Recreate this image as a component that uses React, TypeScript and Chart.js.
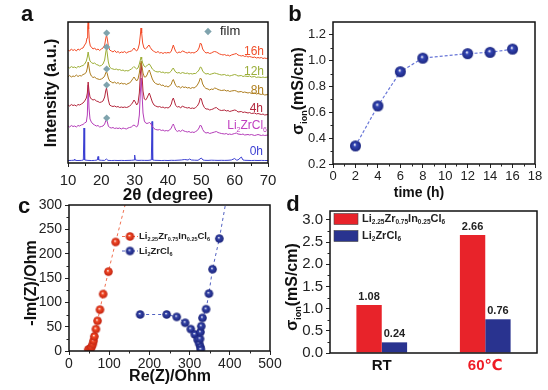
import React, { useEffect, useRef } from "react";
import { Chart, registerables } from "chart.js";
Chart.register(...registerables);

const W = 548;
const H = 390;
const FONT = '"Liberation Sans", Arial, "DejaVu Sans", "Noto Sans CJK SC", sans-serif';

// ---------------- Panel a : XRD patterns (2θ, intensity a.u.) ----------------
const xrd16h = [[10,113],[10.5,112],[11,114],[11.5,112.5],[12,113.5],[12.5,112],[13,114],[13.5,113],[14,114.5],[14.5,115],[15,118],[15.4,120],[15.7,125],[15.9,136],[16.05,141],[16.2,134],[16.4,122],[16.7,117],[17,116],[17.5,114],[18,115],[18.5,113],[19,114],[19.5,112.5],[20,114],[20.5,115],[21,118],[21.3,124],[21.55,128],[21.8,124],[22.1,117],[22.5,113],[23,112],[23.5,111],[24,112.5],[24.5,110.5],[25,111.5],[25.5,110],[26,111],[26.5,110.5],[27,111.5],[27.5,110],[28,111],[28.5,111.5],[29,112],[29.5,113.5],[29.8,115],[30.2,113],[30.6,112],[31,114],[31.4,119],[31.7,128],[31.9,135],[32.1,130],[32.4,120],[32.8,115],[33.2,114],[33.6,115],[34,117],[34.3,118],[34.7,115.5],[35.2,113],[35.7,112],[36,111],[36.5,110.5],[37,111.5],[37.5,110],[38,110.5],[38.5,109.5],[39,110.5],[39.5,110],[40,110.5],[40.5,110],[41,112],[41.3,115],[41.6,118],[41.9,115],[42.3,111.5],[42.8,110],[43.3,111],[43.8,110.5],[44.3,112],[44.8,111.5],[45.3,110.5],[45.8,110],[46.3,111],[46.8,110],[47.3,110.5],[47.8,110],[48.3,111],[48.8,112],[49.3,115],[49.7,120],[50,119],[50.4,114],[50.9,111.5],[51.4,110],[52,110.5],[52.5,109.5],[53,110],[53.5,111],[54,111.5],[54.5,111],[55,110],[55.5,109],[56,108.5],[56.5,108],[57,108.5],[57.5,107.5],[58,108],[58.5,107],[59,108],[59.5,108.5],[60,109],[60.5,109.5],[61,108],[61.5,107.5],[62,107],[62.5,107.5],[63,106.5],[63.5,107],[64,106],[64.5,106.5],[65,106],[65.5,105.5],[66,106],[66.5,105],[67,105.5],[67.5,105],[68,105.5],[68.5,104.5],[69,105],[69.5,104.5],[70,105]];
const xrd12h = [[10,96],[10.5,95],[11,96.5],[11.5,95.5],[12,96],[12.5,95],[13,96.5],[13.5,96],[14,97],[14.5,97.5],[15,99],[15.5,102],[15.8,106],[16.05,111],[16.3,106],[16.6,102],[17,100.5],[17.5,99.5],[18,100],[18.5,98.5],[19,98],[19.5,97],[20,97.5],[20.5,99],[21,103],[21.3,110],[21.55,115],[21.8,109],[22.1,101],[22.5,96],[23,94.5],[23.5,94],[24,93.5],[24.5,94],[25,93],[25.5,93.5],[26,92.5],[26.5,93],[27,92],[27.5,92.5],[28,92],[28.5,93],[29,94],[29.5,95.5],[29.8,96.5],[30.2,95],[30.6,94],[31,95],[31.4,99],[31.7,103],[31.9,106],[32.1,104],[32.4,100],[32.8,97],[33.2,96],[33.6,97],[34,98.5],[34.4,99],[34.8,97],[35.3,94],[35.8,92.5],[36.3,91.5],[37,91],[37.5,91.5],[38,90.5],[38.5,91],[39,90],[39.5,90.5],[40,90],[40.5,90.5],[41,92],[41.3,94],[41.6,95],[41.9,93],[42.3,91],[42.8,90],[43.3,90.5],[43.8,89.5],[44.3,90.5],[44.8,90],[45.3,89.5],[45.8,90],[46.3,89],[46.8,89.5],[47.3,89],[47.8,89.5],[48.3,89.5],[48.8,91],[49.3,93],[49.7,96],[50,95.5],[50.4,92],[50.9,90],[51.4,89],[52,89.5],[52.5,88.5],[53,89],[53.5,89.5],[54,90],[54.5,89.5],[55,89],[55.5,88.5],[56,88],[57,88.5],[57.5,87.5],[58,88],[58.5,87],[59,87.5],[60,88.5],[60.5,88],[61,87],[62,87.5],[62.5,86.5],[63,87],[64,86.5],[64.5,87],[65,86],[66,86.5],[66.5,85.5],[67,86],[68,85.5],[68.5,86],[69,85.5],[70,86]];
const xrd8h = [[10,86],[10.5,87.5],[11,86],[11.5,87],[12,86.5],[12.5,88],[13,86.5],[13.5,87.5],[14,87],[14.5,88.5],[15,89],[15.5,91],[15.8,95],[16.05,101],[16.3,96],[16.6,90],[17,87],[17.5,85.5],[18,86],[18.5,84.5],[19,84],[19.5,83.5],[20,84],[20.5,85],[21,87],[21.3,90],[21.55,91.5],[21.8,89],[22.1,85],[22.5,82],[23,81],[23.5,80],[24,81],[24.5,79.5],[25,80.5],[25.5,79],[26,80],[26.5,79],[27,79.5],[27.5,78.5],[28,79.5],[28.5,80],[29,82],[29.5,84.5],[29.8,86],[30.2,84],[30.6,82],[31,84],[31.4,90],[31.7,98],[31.95,102],[32.2,97],[32.5,90],[32.9,86],[33.3,86],[33.7,88],[34.1,91.5],[34.4,93],[34.8,89],[35.3,84],[35.8,81],[36.3,79.5],[37,78.5],[37.5,79],[38,77.5],[38.5,78],[39,76.5],[39.5,77],[40,76],[40.5,77],[41,79],[41.3,82],[41.6,83.5],[41.9,81],[42.3,77.5],[42.8,76],[43.3,76.5],[43.8,75],[44.3,76.5],[44.8,75.5],[45.3,76],[45.8,75],[46.3,75.5],[46.8,74.5],[47.3,75.5],[47.8,75],[48.3,76],[48.8,78],[49.3,81],[49.7,85],[50,84],[50.4,79],[50.9,76],[51.4,74.5],[52,74],[52.5,73],[53,74],[53.5,73.5],[54,75],[54.5,74.5],[55,73.5],[55.5,73],[56,72.5],[57,73],[57.5,72],[58,72.5],[58.5,71.5],[59,72],[60,72.5],[60.5,72],[61,71],[62,71.5],[62.5,70.5],[63,71],[64,70],[64.5,70.5],[65,69.5],[66,70],[66.5,69],[67,69.5],[68,68.5],[68.5,69],[69,68],[70,68.5]];
const xrd4h = [[10,58],[10.5,57],[11,58.5],[11.5,57.5],[12,58],[12.5,57],[13,58.5],[13.5,58],[14,59],[14.5,60],[15,62],[15.5,65],[15.8,70],[16.05,81],[16.3,72],[16.6,66],[17,64],[17.5,63],[18,63.5],[18.5,62],[19,61.5],[19.5,60.5],[20,61],[20.5,62],[21,66],[21.3,72],[21.55,75],[21.8,70],[22.1,63],[22.5,58],[23,57],[23.5,56.5],[24,57],[24.5,56],[25,56.5],[25.5,55.5],[26,56],[26.5,55.5],[27,56],[27.5,55.5],[28,56],[28.5,57],[29,58.5],[29.5,61],[29.8,63],[30.2,61],[30.6,58],[31,60],[31.4,70],[31.7,88],[31.95,100],[32.2,88],[32.5,72],[32.9,64],[33.3,63],[33.7,65],[34.1,68],[34.4,70],[34.8,66],[35.3,61],[35.8,58],[36.3,57],[37,56],[37.5,56.5],[38,55.5],[38.5,56],[39,55],[39.5,55.5],[40,55],[40.5,56],[41,59],[41.3,63],[41.6,65],[41.9,62],[42.3,57.5],[42.8,56],[43.3,56.5],[43.8,55],[44.3,57],[44.8,56],[45.3,55.5],[45.8,55],[46.3,55.5],[46.8,54.5],[47.3,55],[47.8,54.5],[48.3,55.5],[48.8,57],[49.3,60],[49.7,65],[50,64],[50.4,59],[50.9,55.5],[51.4,54],[52,54],[52.5,53],[53,53.5],[53.5,54],[54,55],[54.5,55.5],[55,54],[55.5,53],[56,52.5],[57,53],[57.5,52],[58,52.5],[58.5,51.5],[59,52],[60,53],[60.5,52.5],[61,51],[62,51.5],[62.5,50.5],[63,51],[64,50],[64.5,50.5],[65,49.5],[66,50],[66.5,49],[67,49.5],[68,48.5],[68.5,49],[69,48],[70,48.5]];
const xrdLi2ZrCl6 = [[10,37],[10.5,36],[11,37.5],[11.5,36.5],[12,37],[12.5,36],[13,37.5],[13.5,37],[14,38],[14.5,38.5],[15,40],[15.5,41],[15.8,48],[16.05,78],[16.3,55],[16.6,44],[17,41],[17.5,39],[18,38],[18.5,37],[19,37.5],[19.5,36],[20,36.5],[20.5,37],[21,39],[21.3,42],[21.55,43.5],[21.8,41],[22.1,37],[22.5,35.5],[23,35],[23.5,35.5],[24,34.5],[24.5,35],[25,34.5],[25.5,35],[26,34],[26.5,35],[27,34.5],[27.5,34],[28,35],[28.5,35.5],[29,36],[29.5,37.5],[29.8,38],[30.2,37],[30.6,36],[31,38],[31.4,48],[31.7,70],[31.95,85],[32.2,70],[32.5,50],[32.9,42],[33.3,40],[33.7,39.5],[34.1,40],[34.5,40.5],[34.9,39],[35.3,36.5],[35.8,34.5],[36.3,33.5],[37,33],[37.5,33.5],[38,32.5],[38.5,33],[39,32],[39.5,32.5],[40,32],[40.5,33],[41,35],[41.3,37.5],[41.6,39],[41.9,36.5],[42.3,33],[42.8,31.5],[43.3,32.5],[43.8,31.5],[44.3,33],[44.8,32],[45.3,31.5],[45.8,31],[46.3,31.5],[46.8,30.5],[47.3,31],[47.8,30.5],[48.3,31.5],[48.8,32.5],[49.3,35],[49.7,38],[50,37],[50.4,33.5],[50.9,31],[51.4,30],[52,30.5],[52.5,29.5],[53,30],[53.5,30.5],[54,31],[54.5,31.5],[55,30.5],[55.5,30],[56,29.5],[57,29],[57.5,29.5],[58,28.5],[58.5,29],[59,28.5],[60,29.5],[60.5,30],[61,29],[62,28.5],[62.5,29],[63,28],[64,28.5],[64.5,28],[65,28.5],[66,27.5],[66.5,28],[67,28.5],[68,27.5],[68.5,28],[69,27.5],[70,28]];
const xrd0h = [[10,2.5],[11,2.6],[11.8,2.8],[12,4],[12.2,2.6],[13,2.5],[14,2.6],[14.6,3],[14.8,35],[15,3],[16,2.6],[17,2.5],[18,2.6],[18.8,3],[19,6.5],[19.2,3],[20,2.7],[21,2.6],[21.5,4],[22,2.6],[23,2.5],[24,2.6],[25,2.5],[26,2.6],[27,2.5],[28,2.6],[29,2.7],[29.8,3],[30,8],[30.2,3],[31,2.6],[32,2.7],[33,2.6],[34,2.6],[35,3],[35.2,41.5],[35.4,3],[36,2.7],[37,2.6],[38,2.5],[39,2.6],[40,2.5],[41,2.7],[42,2.6],[43,2.8],[44,3],[45,3.5],[46,3],[46.5,4],[47,3],[48,2.8],[49,2.7],[50,5],[50.5,3],[51,2.7],[52,2.6],[53,2.8],[54,2.7],[55,2.6],[56,2.7],[57,2.6],[58,2.7],[59,3],[60,4.5],[60.5,3],[61,3],[62,6],[62.5,3],[63,2.7],[64,2.6],[65,2.5],[66,2.6],[67,2.5],[68,2.6],[69,2.5],[70,2.5]];
const filmTheta = [21.6, 21.6, 21.6, 21.6, 21.6];
const filmIntensity = [130, 116, 94, 78, 45];
const xrdNames = ["16h", "12h", "8h", "4h", "Li2ZrCl6", "0h"];

// ---------------- Panel b : conductivity vs time ----------------
const timeH = [2, 4, 6, 8, 12, 14, 16];
const sigmaTime = [0.34, 0.65, 0.915, 1.02, 1.055, 1.065, 1.09];

// ---------------- Panel c : Nyquist ----------------
const inRe = [48, 53, 56, 59, 61, 63, 67, 71, 77, 85, 98, 116];
const inIm = [3, 5, 8, 14, 21, 30, 45, 62, 85, 117, 163, 224];
const inFit = [[116, 224], [141, 305]];
const zrRe = [177, 243, 268, 289, 303, 313, 320, 324, 327, 328, 326, 327, 329, 332, 341, 348, 357, 374];
const zrIm = [75, 75, 70, 58, 45, 34, 23, 15, 8, 3, 25, 39, 51, 68, 86, 118, 168, 231];
const zrFit = [[374, 231], [390, 305]];

// ---------------- Panel d : bars ----------------
const condCats = ["RT", "60℃"];
const condIn = [1.08, 2.66];
const condZr = [0.24, 0.76];

// ---------------- helpers ----------------
type Seg = [string, boolean];
const LI_IN: Seg[] = [["Li", false], ["2.25", true], ["Zr", false], ["0.75", true], ["In", false], ["0.25", true], ["Cl", false], ["6", true]];
const LI_ZR: Seg[] = [["Li", false], ["2", true], ["ZrCl", false], ["6", true]];
const SIGMA: Seg[] = [["σ", false], ["ion", true], ["(mS/cm)", false]];

function rich(ctx: any, segs: Seg[], x: number, y: number, size: number, sub: number, bold: boolean, color: string, align: string, rotate = false) {
  ctx.save();
  const b = bold ? "bold " : "";
  const widths = segs.map(([t, s]) => { ctx.font = `${b}${s ? sub : size}px ${FONT}`; return ctx.measureText(t).width; });
  const total = widths.reduce((a, c) => a + c, 0);
  ctx.translate(x, y);
  if (rotate) ctx.rotate(-Math.PI / 2);
  let cx = align === "left" ? 0 : align === "right" ? -total : -total / 2;
  ctx.fillStyle = color;
  ctx.textBaseline = "middle";
  ctx.textAlign = "left";
  segs.forEach(([t, s], i) => {
    ctx.font = `${b}${s ? sub : size}px ${FONT}`;
    ctx.fillText(t, cx, s ? size * 0.32 : 0);
    cx += widths[i];
  });
  ctx.restore();
}

function frame(chart: any) {
  const { ctx, chartArea: a } = chart;
  ctx.save();
  ctx.strokeStyle = "#111";
  ctx.lineWidth = 1.5;
  ctx.strokeRect(a.left, a.top, a.right - a.left, a.bottom - a.top);
  ctx.restore();
}

function minor(chart: any, xs: number[], xLen: number, ys: number[], yLen: number) {
  const { ctx, chartArea: a, scales } = chart;
  ctx.save();
  ctx.strokeStyle = "#222";
  ctx.lineWidth = 1;
  ctx.beginPath();
  xs.forEach((v) => { const p = Math.round(scales.x.getPixelForValue(v)) + 0.5; ctx.moveTo(p, a.bottom); ctx.lineTo(p, a.bottom + xLen); });
  ys.forEach((v) => { const p = Math.round(scales.y.getPixelForValue(v)) + 0.5; ctx.moveTo(a.left, p); ctx.lineTo(a.left - yLen, p); });
  ctx.stroke();
  ctx.restore();
}

function makeBall(r: number, mid: string, dark: string) {
  const s = Math.ceil(r * 2 + 2);
  const c = document.createElement("canvas");
  c.width = s; c.height = s;
  const g = c.getContext("2d")!;
  const cx = s / 2, cy = s / 2;
  const grad = g.createRadialGradient(cx - r * 0.15, cy - r * 0.25, r * 0.05, cx, cy, r);
  grad.addColorStop(0, "#ffffff");
  grad.addColorStop(0.28, mid);
  grad.addColorStop(1, dark);
  g.fillStyle = grad;
  g.beginPath(); g.arc(cx, cy, r, 0, Math.PI * 2); g.fill();
  return c;
}

const pairs = (a: number[][]) => a.map(([x, y]) => ({ x, y }));
const zip = (xs: number[], ys: number[]) => xs.map((x, i) => ({ x, y: ys[i] }));
const tickFont = (size: number, weight = "normal") => ({ family: FONT, size, weight });
const base = { responsive: false, animation: false, events: [], plugins: { legend: { display: false }, tooltip: { enabled: false } } };

// ---------------- configs ----------------
function cfgA(): any {
  const colors = ["#f24a26", "#9cae36", "#ad7d1f", "#b3263c", "#b43cb8", "#3b3fd2"];
  const series = [xrd16h, xrd12h, xrd8h, xrd4h, xrdLi2ZrCl6, xrd0h];
  return {
    type: "line",
    data: {
      datasets: [
        { data: zip(filmTheta, filmIntensity), showLine: false, pointStyle: "rectRot", pointRadius: 3.6, backgroundColor: "#7fa3ad", borderWidth: 0 },
        ...series.map((s, i) => ({ label: xrdNames[i], data: pairs(s), borderColor: colors[i], borderWidth: 1, pointRadius: 0, tension: 0 })),
      ],
    },
    options: {
      ...base,
      layout: { padding: { left: 0, top: 22, right: W - 268, bottom: 0 } },
      scales: {
        x: { type: "linear", min: 10, max: 70, ticks: { stepSize: 10, font: tickFont(15), color: "#222", padding: 5, maxRotation: 0, autoSkip: false }, grid: { drawOnChartArea: false, tickLength: 4, color: "#222" }, border: { display: false }, afterFit: (s: any) => { s.height = H - 163; } },
        y: { type: "linear", min: 0, max: 141, ticks: { display: false }, grid: { display: false, drawTicks: false }, border: { display: false }, afterFit: (s: any) => { s.width = 68; } },
      },
    },
    plugins: [{
      id: "txtA",
      afterDraw(chart: any) {
        const ctx = chart.ctx;
        frame(chart);
        minor(chart, [15, 25, 35, 45, 55, 65], 3, [], 0);
        rich(ctx, [["a", false]], 27, 15, 22, 0, true, "#111", "center");
        rich(ctx, [["Intensity (a.u.)", false]], 52, 93, 16, 0, true, "#111", "center", true);
        rich(ctx, [["2θ (degree)", false]], 168, 195, 17, 0, true, "#111", "center");
        rich(ctx, [["16h", false]], 264, 52, 12, 0, false, "#f0502c", "right");
        rich(ctx, [["12h", false]], 264, 72, 12, 0, false, "#9aae3a", "right");
        rich(ctx, [["8h", false]], 264, 91, 12, 0, false, "#b08020", "right");
        rich(ctx, [["4h", false]], 263, 109, 12, 0, false, "#b3263c", "right");
        rich(ctx, [["Li", false], ["2", true], ["ZrCl", false], ["6", true]], 267, 126, 12, 7, false, "#c040c0", "right");
        rich(ctx, [["0h", false]], 263, 152, 12, 0, false, "#3b3fd2", "right");
        ctx.save();
        ctx.fillStyle = "#7fa3ad";
        ctx.translate(208, 31.5);
        ctx.rotate(Math.PI / 4);
        ctx.fillRect(-2.6, -2.6, 5.2, 5.2);
        ctx.restore();
        rich(ctx, [["film", false]], 220, 31, 13, 0, false, "#222", "left");
      },
    }],
  };
}

function cfgB(): any {
  const ball = makeBall(5.5, "#3446b4", "#1b257e");
  return {
    type: "line",
    data: { datasets: [{ data: zip(timeH, sigmaTime), borderColor: "#6a78d8", borderWidth: 1.2, borderDash: [3, 2], pointStyle: ball, pointRadius: 5.5, tension: 0 }] },
    options: {
      ...base,
      layout: { padding: { left: 0, top: 22, right: W - 535, bottom: 0 } },
      scales: {
        x: { type: "linear", min: 0, max: 18, ticks: { stepSize: 2, font: tickFont(13), color: "#222", padding: 1, maxRotation: 0, autoSkip: false }, grid: { drawOnChartArea: false, tickLength: 4, color: "#222" }, border: { display: false }, afterFit: (s: any) => { s.height = H - 164; } },
        y: { type: "linear", min: 0.2, max: 1.3, ticks: { stepSize: 0.2, includeBounds: false, font: tickFont(13), color: "#222", padding: 3, callback: (v: number) => v.toFixed(1) }, grid: { drawOnChartArea: false, tickLength: 4, color: "#222" }, border: { display: false }, afterFit: (s: any) => { s.width = 333; } },
      },
    },
    plugins: [{
      id: "txtB",
      afterDraw(chart: any) {
        const ctx = chart.ctx;
        frame(chart);
        minor(chart, [1, 3, 5, 7, 9, 11, 13, 15, 17], 2.5, [0.3, 0.5, 0.7, 0.9, 1.1], 2.5);
        rich(ctx, [["b", false]], 295, 15, 22, 0, true, "#111", "center");
        rich(ctx, SIGMA, 299, 91, 16, 9, true, "#111", "center", true);
        rich(ctx, [["time (h)", false]], 419, 193, 14, 0, true, "#111", "center");
      },
    }],
  };
}

function cfgC(): any {
  const red = makeBall(4.3, "#f24a26", "#c0200e");
  const blue = makeBall(4.3, "#3444a8", "#1a2278");
  return {
    type: "line",
    data: {
      datasets: [
        { data: zip(inRe, inIm), borderColor: "#f07050", borderWidth: 1, borderDash: [3, 3], pointStyle: red, pointRadius: 4.3, tension: 0 },
        { data: zip(zrRe, zrIm), borderColor: "#5060c0", borderWidth: 1, borderDash: [3, 3], pointStyle: blue, pointRadius: 4.3, tension: 0 },
        { data: pairs(inFit), borderColor: "#f07050", borderWidth: 1, borderDash: [3, 3], pointRadius: 0 },
        { data: pairs(zrFit), borderColor: "#5060c0", borderWidth: 1, borderDash: [3, 3], pointRadius: 0 },
      ],
    },
    options: {
      ...base,
      layout: { padding: { left: 0, top: 205, right: W - 270, bottom: 0 } },
      scales: {
        x: { type: "linear", min: 0, max: 500, ticks: { stepSize: 100, font: tickFont(14), color: "#222", padding: 1, maxRotation: 0, autoSkip: false }, grid: { drawOnChartArea: false, tickLength: 4, color: "#222" }, border: { display: false }, afterFit: (s: any) => { s.height = H - 351; } },
        y: { type: "linear", min: 0, max: 300, ticks: { stepSize: 50, font: tickFont(14), color: "#222", padding: 3 }, grid: { drawOnChartArea: false, tickLength: 4, color: "#222" }, border: { display: false }, afterFit: (s: any) => { s.width = 69; } },
      },
    },
    plugins: [{
      id: "txtC",
      afterDraw(chart: any) {
        const ctx = chart.ctx;
        frame(chart);
        minor(chart, [50, 150, 250, 350, 450], 2.5, [25, 75, 125, 175, 225, 275], 2.5);
        rich(ctx, [["c", false]], 24, 207, 22, 0, true, "#111", "center");
        rich(ctx, [["-Im(Z)/Ohm", false]], 32, 283, 16, 0, true, "#111", "center", true);
        rich(ctx, [["Re(Z)/Ohm", false]], 170, 377, 16, 0, true, "#111", "center");
        // legend
        ctx.save();
        ctx.lineWidth = 1;
        ctx.setLineDash([3, 2]);
        ctx.strokeStyle = "#f07050";
        ctx.beginPath(); ctx.moveTo(122, 236.5); ctx.lineTo(138, 236.5); ctx.stroke();
        ctx.strokeStyle = "#5060c0";
        ctx.beginPath(); ctx.moveTo(122, 251); ctx.lineTo(138, 251); ctx.stroke();
        ctx.restore();
        ctx.drawImage(red, 130 - red.width / 2, 236.5 - red.height / 2);
        ctx.drawImage(blue, 130 - blue.width / 2, 251 - blue.height / 2);
        rich(ctx, LI_IN, 139, 236.5, 9.5, 5.5, true, "#222", "left");
        rich(ctx, LI_ZR, 139, 251, 9.5, 5.5, true, "#222", "left");
      },
    }],
  };
}

function cfgD(): any {
  return {
    type: "bar",
    data: {
      labels: condCats,
      datasets: [
        { data: condIn, backgroundColor: "#e8232a", borderWidth: 0, categoryPercentage: 0.49, barPercentage: 1 },
        { data: condZr, backgroundColor: "#29338f", borderWidth: 0, categoryPercentage: 0.49, barPercentage: 1 },
      ],
    },
    options: {
      ...base,
      layout: { padding: { left: 0, top: 211, right: W - 537, bottom: 0 } },
      scales: {
        x: { type: "category", ticks: { font: tickFont(15, "bold"), color: (c: any) => (c.index === 1 ? "#ee1c25" : "#111"), padding: 4 }, grid: { display: false, drawTicks: false }, border: { display: false }, afterFit: (s: any) => { s.height = H - 353; } },
        y: { type: "linear", min: 0, max: 3.2, ticks: { stepSize: 0.5, includeBounds: false, font: tickFont(15), color: "#222", padding: 3, callback: (v: number) => v.toFixed(1) }, grid: { drawOnChartArea: false, tickLength: 4, color: "#222" }, border: { display: false }, afterFit: (s: any) => { s.width = 330; } },
      },
    },
    plugins: [{
      id: "txtD",
      afterDraw(chart: any) {
        const ctx = chart.ctx;
        frame(chart);
        minor(chart, [], 0, [0.25, 0.75, 1.25, 1.75, 2.25, 2.75], 2.5);
        chart.data.datasets.forEach((ds: any, di: number) => {
          chart.getDatasetMeta(di).data.forEach((el: any, i: number) => {
            rich(ctx, [[ds.data[i].toFixed(2), false]], el.x, el.y - 8, 11, 0, true, "#222", "center");
          });
        });
        rich(ctx, [["d", false]], 293, 205, 22, 0, true, "#111", "center");
        rich(ctx, SIGMA, 293, 287, 16, 9, true, "#111", "center", true);
        ctx.save();
        ctx.fillStyle = "#e8232a"; ctx.fillRect(334, 213.5, 24, 11);
        ctx.fillStyle = "#29338f"; ctx.fillRect(334, 230.5, 24, 11);
        ctx.strokeStyle = "#444"; ctx.lineWidth = 0.6;
        ctx.strokeRect(334, 213.5, 24, 11); ctx.strokeRect(334, 230.5, 24, 11);
        ctx.restore();
        rich(ctx, LI_IN, 362, 219, 11, 6.5, true, "#222", "left");
        rich(ctx, LI_ZR, 362, 236, 11, 6.5, true, "#222", "left");
      },
    }],
  };
}

export default function App() {
  const ra = useRef<HTMLCanvasElement>(null);
  const rb = useRef<HTMLCanvasElement>(null);
  const rc = useRef<HTMLCanvasElement>(null);
  const rd = useRef<HTMLCanvasElement>(null);
  useEffect(() => {
    const charts = [
      new Chart(ra.current!, cfgA()),
      new Chart(rb.current!, cfgB()),
      new Chart(rc.current!, cfgC()),
      new Chart(rd.current!, cfgD()),
    ];
    return () => charts.forEach((c) => c.destroy());
  }, []);
  const st: any = { position: "absolute", left: 0, top: 0, width: W, height: H };
  return (
    <div style={{ position: "absolute", left: 0, top: 0, width: W, height: H, background: "#fff", overflow: "hidden" }}>
      <canvas ref={ra} width={W} height={H} style={st} />
      <canvas ref={rb} width={W} height={H} style={st} />
      <canvas ref={rc} width={W} height={H} style={st} />
      <canvas ref={rd} width={W} height={H} style={st} />
    </div>
  );
}
